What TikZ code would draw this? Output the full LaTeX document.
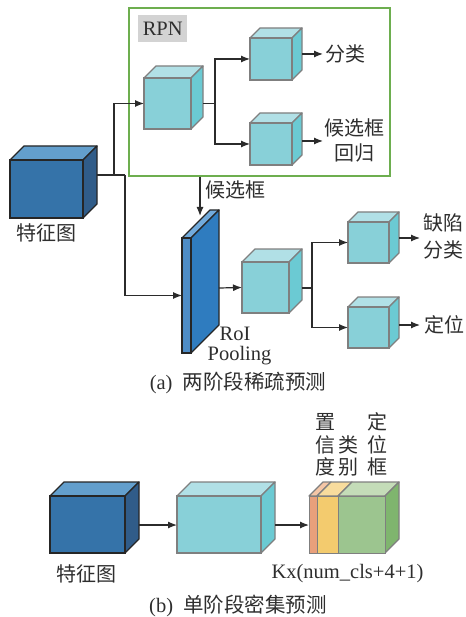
\documentclass[tikz,border=0pt]{standalone}
\usepackage{fontspec}
\setmainfont{Liberation Serif}
\newfontfamily\cjk{Noto Sans CJK SC}
\usetikzlibrary{arrows.meta}
\definecolor{linec}{HTML}{2B2B2B}
\definecolor{txtc}{HTML}{2E2E2E}
\definecolor{cyF}{HTML}{88D0D8}
\definecolor{cyT}{HTML}{B1E0E6}
\definecolor{cyS}{HTML}{6BCAD3}
\definecolor{cyB}{HTML}{7F7F7F}
\definecolor{dbF}{HTML}{3573A9}
\definecolor{dbT}{HTML}{639FCD}
\definecolor{dbS}{HTML}{305C89}
\definecolor{dbB}{HTML}{262626}
\definecolor{rbF}{HTML}{4E8DC7}
\definecolor{rbT}{HTML}{72ABDC}
\definecolor{rbS}{HTML}{2F7CBF}
\definecolor{grnbox}{HTML}{6DAE4F}
\definecolor{rpnbg}{HTML}{D3D3D3}
\definecolor{orF}{HTML}{E9A07B}
\definecolor{orT}{HTML}{F5C6A6}
\definecolor{yeF}{HTML}{F3CB6E}
\definecolor{yeT}{HTML}{F8DC9D}
\definecolor{gnF}{HTML}{9CC58F}
\definecolor{gnT}{HTML}{C4DCB8}
\definecolor{gnS}{HTML}{7FB56E}
\newcommand\mycube[8]{%
  \filldraw[fill=#7T, draw=#8, line width=1.3pt, line join=round]
    ({#2},{#3}) -- ({#2+#6},{#3-#6}) -- ({#4+#6},{#3-#6}) -- ({#4},{#3}) -- cycle;
  \filldraw[fill=#7S, draw=#8, line width=1.3pt, line join=round]
    ({#4},{#3}) -- ({#4+#6},{#3-#6}) -- ({#4+#6},{#5-#6}) -- ({#4},{#5}) -- cycle;
  \node[draw=#8, fill=#7F, line width=1.3pt, inner sep=0pt, outer sep=0pt,
        anchor=north west, minimum width={(#4-#2)*1pt},
        minimum height={(#5-#3)*1pt}] (#1) at ({#2},{#3}) {};%
}
\tikzset{
  plain/.style={draw=linec, line width=1.2pt},
  conn/.style={draw=linec, line width=1.2pt, -{Latex[length=9pt,width=7pt]}},
  lbl/.style={text=txtc, inner sep=0pt, font=\cjk\fontsize{20}{22}\selectfont},
  lat/.style={text=txtc, inner sep=0pt, font=\fontsize{20.5}{22}\selectfont},
}
\begin{document}
\begin{tikzpicture}[x=1pt,y=-1pt]
\useasboundingbox (0,0) rectangle (465,617);
% ---------- (a) ----------
\node[draw=grnbox, line width=1.6pt, inner sep=0pt, anchor=north west,
      minimum width=261pt, minimum height=168pt] (rpnbox) at (128,7) {};
\node[fill=rpnbg, inner sep=0pt, anchor=north west, minimum width=49pt,
      minimum height=27pt] (rpnlbl) at (138,15) {};
\node[lat] (rpntxt) at (rpnlbl.center) {RPN};

\mycube{fm}{10}{160}{83}{218}{14}{db}{dbB}
\node[lbl] (fmlbl) at (46.5,233) {特征图};

\mycube{c1}{144}{78}{191}{129}{12}{cy}{cyB}
\mycube{c2}{250}{38}{292}{80}{10}{cy}{cyB}
\mycube{c3}{250}{123}{292}{165}{10}{cy}{cyB}

\mycube{roi}{182}{238}{191}{353}{28}{rb}{dbB}
\mycube{c4}{242}{262}{289}{313}{13}{cy}{cyB}
\mycube{c5}{348}{222}{389}{263}{10}{cy}{cyB}
\mycube{c6}{348}{307}{389}{348}{10}{cy}{cyB}

% connectors (a)
\coordinate (fmout) at (97,175);
\coordinate (j1) at (114,175);
\coordinate (j2) at (125,175);
\draw[plain] (fmout) -- (j2);
\draw[conn] (j1) |- (c1.west);
\draw[conn] (j2) |- (roi.west);

\coordinate (c1out) at (203,103.5);
\coordinate (b1) at (215,103.5);
\draw[plain] (c1out) -- (b1);
\draw[conn] (b1) |- (c2.west);
\draw[conn] (b1) |- (c3.west);

\coordinate (c2out) at (302,54);
\coordinate (c3out) at (302,141);
\node[lbl, anchor=west] (fl1) at (325,54) {分类};
\node[lbl] (hx1) at (354,128) {候选框};
\node[lbl] (hg1) at (354,153) {回归};
\draw[conn] (c2out) -- (323,54) coordinate (c2end);
\draw[conn] (c3out) -- (323,141) coordinate (c3end);

\coordinate (pstart) at (rpnbox.south -| 200,0);
\coordinate (pend) at (200,216);
\draw[conn] (pstart) -- (pend);
\node[lbl, anchor=west] (hx2) at (205,190) {候选框};

\coordinate (roiout) at (219,288);
\draw[conn] (roiout) -- (c4.west);
\coordinate (c4out) at (302,288);
\coordinate (b2) at (312,288);
\draw[plain] (c4out) -- (b2);
\draw[conn] (b2) |- (c5.west);
\draw[conn] (b2) |- (c6.west);
\coordinate (c5out) at (399,238);
\coordinate (c6out) at (399,325);
\draw[conn] (c5out) -- (420,238) coordinate (c5end);
\draw[conn] (c6out) -- (420,325) coordinate (c6end);
\node[lbl] (qx) at (443,223) {缺陷};
\node[lbl] (fl2) at (443,250) {分类};
\node[lbl] (dw) at (444,325) {定位};

\node[lat] (roit) at (235,334) {RoI};
\node[lat] (poolt) at (239.5,356) {Pooling};
\node[lat] (capa) at (238,383) {(a)\hspace{0.5em}{\cjk 两阶段稀疏预测}};

% ---------- (b) ----------
\mycube{fmb}{50}{496}{125}{553}{14}{db}{dbB}
\mycube{cb}{177}{496}{261}{553}{14}{cy}{cyB}
% stacked output
\filldraw[fill=orT, draw=cyB, line width=1.3pt, line join=round]
  (309,496) -- (323,482) -- (331,482) -- (317,496) -- cycle;
\filldraw[fill=yeT, draw=cyB, line width=1.3pt, line join=round]
  (317,496) -- (331,482) -- (352,482) -- (338,496) -- cycle;
\filldraw[fill=gnT, draw=cyB, line width=1.3pt, line join=round]
  (338,496) -- (352,482) -- (399,482) -- (385,496) -- cycle;
\filldraw[fill=gnS, draw=cyB, line width=1.3pt, line join=round]
  (385,496) -- (399,482) -- (399,539) -- (385,553) -- cycle;
\node[draw=cyB, fill=orF, line width=1.3pt, inner sep=0pt, anchor=north west,
      minimum width=8pt, minimum height=57pt] (so) at (309,496) {};
\node[draw=cyB, fill=yeF, line width=1.3pt, inner sep=0pt, anchor=north west,
      minimum width=21pt, minimum height=57pt] (sy) at (317,496) {};
\node[draw=cyB, fill=gnF, line width=1.3pt, inner sep=0pt, anchor=north west,
      minimum width=47pt, minimum height=57pt] (sg) at (338,496) {};

\coordinate (fmbout) at (139,525);
\draw[conn] (fmbout) -- (cb.west |- fmbout);
\coordinate (cbout) at (275,525);
\draw[conn] (cbout) -- (so.west |- cbout);

\node[lbl] (z1) at (325,422) {置};
\node[lbl] (z2) at (325,445) {信};
\node[lbl] (z3) at (325,467) {度};
\node[lbl] (l2) at (348,445) {类};
\node[lbl] (l3) at (348,467) {别};
\node[lbl] (d1) at (377,422) {定};
\node[lbl] (d2) at (377,445) {位};
\node[lbl] (d3) at (377,467) {框};

\node[lbl] (fmblbl) at (86,574) {特征图};
\node[lat] (kx) at (347.5,574) {Kx(num\_cls+4+1)};
\node[lat] (capb) at (238,606) {(b)\hspace{0.5em}{\cjk 单阶段密集预测}};
\end{tikzpicture}
\end{document}
